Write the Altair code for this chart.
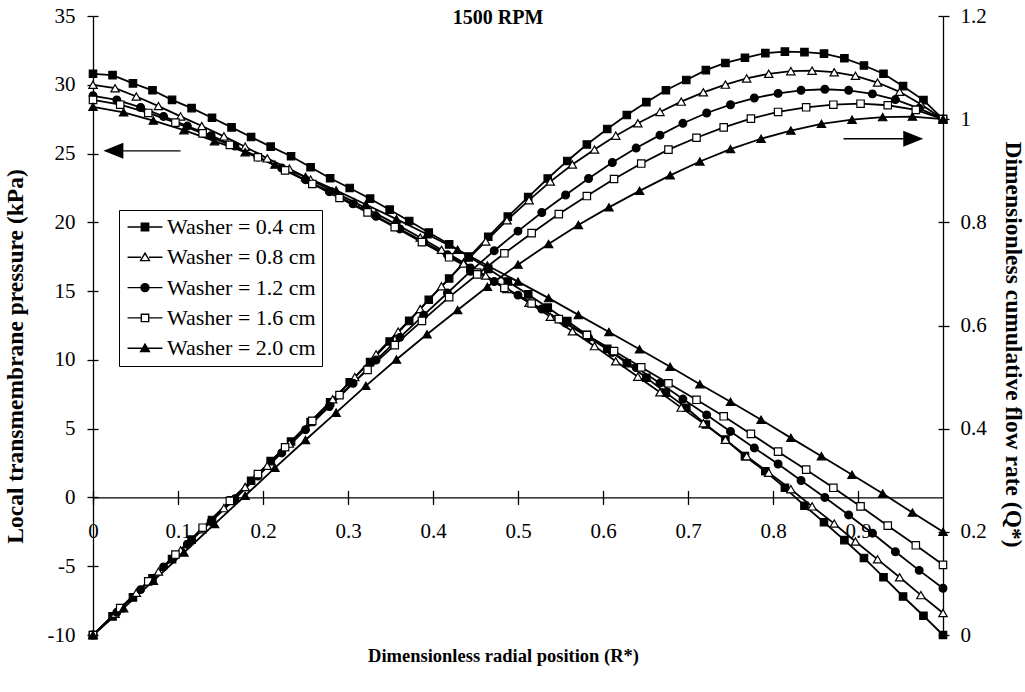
import altair as alt
import pandas as pd

SERIES = ["Washer = 0.4 cm", "Washer = 0.8 cm", "Washer = 1.2 cm",
          "Washer = 1.6 cm", "Washer = 2.0 cm"]

# Dimensionless radial position of the markers (one grid per washer)
R_04 = [0, .023, .047, .070, .093, .116, .140, .163, .186, .209, .233, .256, .279, .302, .326,
        .349, .372, .395, .419, .442, .465, .488, .512, .535, .558, .581, .605, .628, .651, .674,
        .698, .721, .744, .767, .791, .814, .837, .860, .884, .907, .930, .953, .977, 1]
R_08 = [0, .026, .051, .077, .103, .128, .154, .179, .205, .231, .256, .282, .308, .333, .359,
        .385, .410, .436, .462, .487, .513, .538, .564, .590, .615, .641, .667, .692, .718, .744,
        .769, .795, .821, .846, .872, .897, .923, .949, .974, 1]
R_12 = [0, .028, .056, .083, .111, .139, .167, .194, .222, .250, .278, .306, .333, .361, .389,
        .417, .444, .472, .500, .528, .556, .583, .611, .639, .667, .694, .722, .750, .778, .806,
        .833, .861, .889, .917, .944, .972, 1]
R_16 = [0, .032, .065, .097, .129, .161, .194, .226, .258, .290, .323, .355, .387, .419, .452,
        .484, .516, .548, .581, .613, .645, .677, .710, .742, .774, .806, .839, .871, .903, .935,
        .968, 1]
R_20 = [0, .036, .071, .107, .143, .179, .214, .250, .286, .321, .357, .393, .429, .464, .500,
        .536, .571, .607, .643, .679, .714, .750, .786, .821, .857, .893, .929, .964, 1]

# Local transmembrane pressure (kPa), left axis
P_04 = [30.8, 30.7, 30.1, 29.6, 28.9, 28.3, 27.6, 26.9, 26.2, 25.5, 24.8, 24.0, 23.2, 22.5,
        21.72, 20.92, 20.10, 19.26, 18.40, 17.52, 16.62, 15.70, 14.76, 13.80, 12.82, 11.82,
        10.80, 9.76, 8.70, 7.62, 6.52, 5.3, 4.2, 3.0, 1.9, 0.7, -0.6, -1.8, -3.1, -4.4, -5.8,
        -7.2, -8.6, -10.0]
P_08 = [30.0, 29.75, 29.15, 28.45, 27.7, 27.0, 26.25, 25.5, 24.65, 23.9, 23.1, 22.25, 21.45,
        20.63, 19.78, 18.9, 18.0, 17.08, 16.13, 15.15, 14.15, 13.13, 12.08, 11.0, 9.9, 8.78,
        7.65, 6.53, 5.4, 4.2, 3.0, 1.8, 0.6, -0.65, -1.9, -3.2, -4.5, -5.8, -7.1, -8.4]
P_12 = [29.2, 28.9, 28.35, 27.7, 27.0, 26.3, 25.55, 24.75, 23.95, 23.1, 22.23, 21.34, 20.44,
        19.52, 18.59, 17.64, 16.68, 15.7, 14.71, 13.7, 12.67, 11.62, 10.54, 9.44, 8.31, 7.15,
        6.0, 4.8, 3.6, 2.43, 1.23, 0.0, -1.27, -2.6, -3.95, -5.3, -6.6]
P_16 = [28.9, 28.55, 27.95, 27.25, 26.47, 25.63, 24.73, 23.78, 22.79, 21.77, 20.72, 19.65,
        18.56, 17.46, 16.35, 15.23, 14.1, 12.96, 11.81, 10.64, 9.46, 8.3, 7.1, 5.9, 4.62, 3.33,
        2.02, 0.7, -0.65, -2.05, -3.48, -4.9]
P_20 = [28.4, 28.0, 27.4, 26.7, 25.9, 25.1, 24.2, 23.3, 22.32, 21.3, 20.23, 19.13, 18.01,
        16.86, 15.69, 14.49, 13.27, 12.03, 10.77, 9.5, 8.23, 6.95, 5.65, 4.33, 3.0, 1.65, 0.28,
        -1.1, -2.5]

# Dimensionless cumulative flow rate (Q*), right axis
Q_04 = [0, .036, .073, .110, .147, .185, .223, .261, .299, .337, .375, .413, .451, .490, .529,
        .569, .609, .650, .691, .732, .772, .811, .849, .885, .919, .951, .981, 1.008, 1.033,
        1.056, 1.076, 1.095, 1.109, 1.119, 1.128, 1.131, 1.130, 1.127, 1.118, 1.104, 1.088,
        1.064, 1.037, 1.000]
Q_08 = [0, .041, .082, .123, .164, .205, .246, .287, .328, .371, .414, .457, .500, .544, .588,
        .632, .676, .720, .763, .804, .843, .879, .912, .941, .968, .992, 1.014, 1.034, 1.052,
        1.067, 1.079, 1.088, 1.093, 1.094, 1.091, 1.084, 1.071, 1.053, 1.029, 1.000]
Q_12 = [0, .044, .088, .132, .176, .220, .264, .308, .353, .398, .443, .488, .533, .577, .620,
        .663, .705, .745, .783, .819, .853, .885, .916, .944, .969, .992, 1.012, 1.028, 1.041,
        1.050, 1.056, 1.058, 1.056, 1.049, 1.038, 1.021, 1.000]
Q_16 = [0, .052, .104, .156, .208, .260, .312, .364, .415, .465, .514, .562, .609, .655, .699,
        .740, .779, .816, .851, .884, .914, .941, .964, .984, 1.001, 1.014, 1.023, 1.028, 1.030,
        1.027, 1.018, 1.000]
Q_20 = [0, .052, .105, .160, .215, .270, .324, .378, .431, .483, .534, .583, .630, .675, .718,
        .758, .795, .829, .861, .891, .918, .942, .962, .978, .991, .999, 1.004, 1.005, 1.000]

X_TICKS = [0, 0.1, 0.2, 0.3, 0.4, 0.5, 0.6, 0.7, 0.8, 0.9]
P_TICKS = [-10, -5, 0, 5, 10, 15, 20, 25, 30, 35]
Q_TICKS = [0, 0.2, 0.4, 0.6, 0.8, 1.0, 1.2]

MARK_SHAPES = ["square", "triangle-up", "circle", "square", "triangle-up"]
MARK_FILLS = ["black", "white", "black", "white", "black"]
MARK_SIZES = [55, 70, 60, 55, 70]
LEGEND_SHAPES = [
    "M-2.6,0H2.6M-0.55,-0.55H0.55V0.55H-0.55Z",
    "M-2.6,0H-0.6M0.6,0H2.6M0,-0.62L0.66,0.5H-0.66Z",
    "M-2.6,0H2.6M0.6,0A0.6,0.6 0 1,1 -0.6,0A0.6,0.6 0 1,1 0.6,0Z",
    "M-2.6,0H-0.55M0.55,0H2.6M-0.55,-0.55H0.55V0.55H-0.55Z",
    "M-2.6,0H2.6M0,-0.62L0.66,0.5H-0.66Z",
]
LEGEND_STROKES = ["black", "black", "black", "black", "black"]

# Annotation arrows (left one points to the pressure axis, right one to the flow axis)
ARROW_LEFT = {"r_from": 0.103, "r_to": 0.03, "r_head": 0.024, "value": 25.2}
ARROW_RIGHT = {"r_from": 0.883, "r_to": 0.955, "r_head": 0.965, "value": 0.962}
HEAD_LEFT = "M-1,0L1,-0.8L1,0.8Z"
HEAD_RIGHT = "M1,0L-1,-0.8L-1,0.8Z"

W, H = 850, 619
FONT = "Liberation Serif"

rows = []
for name, rs, ps, qs in zip(SERIES, [R_04, R_08, R_12, R_16, R_20],
                            [P_04, P_08, P_12, P_16, P_20],
                            [Q_04, Q_08, Q_12, Q_16, Q_20]):
    for r, p, q in zip(rs, ps, qs):
        rows.append({"series": name, "r": r, "p": p, "q": q})
df = pd.DataFrame(rows)

x_scale = alt.Scale(domain=[0, 1], nice=False, zero=False)
p_scale = alt.Scale(domain=[-10, 35], nice=False, zero=False)
q_scale = alt.Scale(domain=[0, 1.2], nice=False, zero=False)

zero_px = H * 35 / 45  # y pixel of pressure 0

base = alt.Chart(df)
X_NONE = alt.X("r:Q", scale=x_scale, axis=None)
MINUS_FIX = "datum.value < 0 ? '-' + abs(datum.value) : '' + datum.value"

p_line = base.mark_line(color="black", strokeWidth=1.8).encode(
    x=alt.X("r:Q", scale=x_scale, axis=alt.Axis(
        orient="bottom", offset=-(H - zero_px), values=X_TICKS, format="~g",
        tickSize=7, labelPadding=16, title=None)),
    y=alt.Y("p:Q", scale=p_scale, axis=alt.Axis(
        orient="left", values=P_TICKS, labelExpr=MINUS_FIX, tickSize=6, labelPadding=12,
        title="Local transmembrane pressure (kPa)", titleFontSize=23.5,
        titleX=-78, titleY=340, titleAngle=270, titleBaseline="middle",
        titleAlign="center")),
    detail="series:N",
)
q_line = base.mark_line(color="black", strokeWidth=1.8).encode(
    x=alt.X("r:Q", scale=x_scale, axis=alt.Axis(
        orient="top", offset=-zero_px, values=X_TICKS, labels=False, domain=False,
        tickSize=7, title=None)),
    y=alt.Y("q:Q", scale=q_scale, axis=alt.Axis(
        orient="right", values=Q_TICKS, format="~g", tickSize=6, labelPadding=11,
        title="Dimensionless cumulative flow rate (Q*)", titleFontSize=23.5,
        titleX=69, titleY=328, titleAngle=90, titleBaseline="middle",
        titleAlign="center")),
    detail="series:N",
)

point_layers = []
for i, name in enumerate(SERIES):
    first = i == 0
    mark = dict(shape=MARK_SHAPES[i], filled=True, fill=MARK_FILLS[i], stroke="black",
                strokeWidth=1.2, size=MARK_SIZES[i], opacity=1)
    sub = base.transform_filter(alt.datum.series == name)
    point_layers.append(sub.mark_point(**mark).encode(
        x=X_NONE,
        y=alt.Y("p:Q", scale=p_scale, axis=alt.Axis(
            orient="right", offset=-W, values=P_TICKS, labels=False, domain=False,
            tickSize=5, title=None) if first else None)))
    point_layers.append(sub.mark_point(**mark).encode(
        x=X_NONE,
        y=alt.Y("q:Q", scale=q_scale, axis=alt.Axis(
            orient="left", offset=-W, values=Q_TICKS, labels=False, domain=False,
            tickSize=5, title=None) if first else None)))

al_line = alt.Chart(pd.DataFrame({"r": [ARROW_LEFT["r_from"]], "r2": [ARROW_LEFT["r_to"]],
                                  "v": [ARROW_LEFT["value"]]})).mark_rule(
    color="black", strokeWidth=1.3).encode(
    x=alt.X("r:Q", scale=x_scale, axis=alt.Axis(
        orient="bottom", labels=False, ticks=False, domain=False,
        title="Dimensionless radial position (R*)", titleFontSize=18.5,
        titleX=410, titleY=20, titleBaseline="middle", titleAlign="center")),
    x2="r2:Q", y=alt.Y("v:Q", scale=p_scale, axis=None))
al_head = alt.Chart(pd.DataFrame({"r": [ARROW_LEFT["r_head"]], "v": [ARROW_LEFT["value"]]})).mark_point(
    shape=HEAD_LEFT, size=400, filled=True, color="black", opacity=1).encode(
    x=X_NONE, y=alt.Y("v:Q", scale=p_scale, axis=None))
ar_line = alt.Chart(pd.DataFrame({"r": [ARROW_RIGHT["r_from"]], "r2": [ARROW_RIGHT["r_to"]],
                                  "v": [ARROW_RIGHT["value"]]})).mark_rule(
    color="black", strokeWidth=1.3).encode(
    x=X_NONE, x2="r2:Q", y=alt.Y("v:Q", scale=q_scale, axis=None))
ar_head = alt.Chart(pd.DataFrame({"r": [ARROW_RIGHT["r_head"]], "v": [ARROW_RIGHT["value"]]})).mark_point(
    shape=HEAD_RIGHT, size=400, filled=True, color="black", opacity=1).encode(
    x=X_NONE, y=alt.Y("v:Q", scale=q_scale, axis=None))

legend_props = alt.Legend(
    orient="none", legendX=26, legendY=194, title=None,
    labelFont=FONT, labelFontSize=22, labelColor="black",
    symbolSize=180, symbolStrokeWidth=1.4, symbolStrokeColor="black",
    strokeColor="black", fillColor="white", padding=6, rowPadding=8.3,
    symbolOffset=9, labelOffset=11, labelLimit=400)
legend_layer = alt.Chart(pd.DataFrame({"series": SERIES})).mark_point(
    filled=True, size=180, strokeWidth=1.4, clip=True, opacity=1).encode(
    x=alt.value(-300), y=alt.value(-300),
    shape=alt.Shape("series:N", scale=alt.Scale(domain=SERIES, range=LEGEND_SHAPES),
                    legend=legend_props),
    fill=alt.Fill("series:N", scale=alt.Scale(domain=SERIES, range=MARK_FILLS),
                  legend=legend_props),
    stroke=alt.Stroke("series:N", scale=alt.Scale(domain=SERIES, range=LEGEND_STROKES),
                      legend=legend_props),
)

chart = alt.layer(
    p_line, q_line, *point_layers, al_line, al_head, ar_line, ar_head, legend_layer
).resolve_scale(
    y="independent"
).resolve_axis(x="independent", y="independent").properties(
    width=W, height=H,
    title=alt.TitleParams("1500 RPM", font=FONT, fontSize=20, fontWeight="bold",
                          color="black", anchor="middle", dx=-20, offset=-23),
    autosize=alt.AutoSizeParams(type="none"),
    padding={"left": 93, "top": 16, "right": 82, "bottom": 57},
    background="white",
).configure_axis(
    labelFont=FONT, labelFontSize=21, labelColor="black",
    titleFont=FONT, titleFontWeight="bold", titleColor="black",
    domainColor="black", tickColor="black", domainWidth=1.3, tickWidth=1.3,
    grid=False, labelFlush=False, labelOverlap=False,
).configure_view(stroke=None)

chart.save("out.html", embed_options={"renderer": "svg", "actions": False})
